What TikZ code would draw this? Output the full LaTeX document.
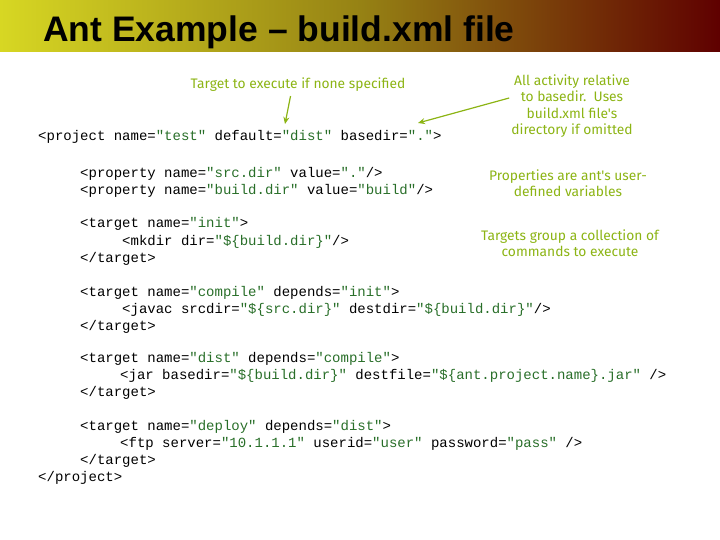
\documentclass[tikz,border=0pt]{standalone}
\usepackage{fontspec}
\usetikzlibrary{arrows.meta}
\setmainfont{Liberation Sans}
\newfontfamily\codefont{Liberation Mono}
\newfontfamily\notefont{Fira Sans}
\definecolor{valgreen}{RGB}{40,110,40}
\definecolor{notegreen}{RGB}{140,180,20}
\definecolor{barY}{RGB}{215,215,35}
\definecolor{barM}{RGB}{150,130,20}
\definecolor{barR}{RGB}{95,0,0}
\newcommand{\qv}[1]{\textcolor{valgreen}{"#1"}}
\begin{document}
\begin{tikzpicture}[x=1pt,y=-1pt,
  code/.style={anchor=base west,inner sep=0pt,font=\codefont\fontsize{14}{16}\selectfont},
  note/.style={align=center,inner sep=0pt,text=notegreen,font=\notefont\fontsize{13.8}{16.5}\selectfont},
  noteline/.style={notegreen,line width=1.2pt,-{Stealth[length=7pt,width=6pt]}}]
\useasboundingbox (0,0) rectangle (720,540);
\shade[left color=barY,right color=barR,middle color=barM] (0,0) rectangle (720,52);
\node[anchor=base west,inner sep=0pt,font=\bfseries\fontsize{35.5}{38}\selectfont] (title) at (43,42) {Ant Example – build.xml file};

\node[code] (p1) at (38,141) {<project name=\qv{test} default=\qv{dist} basedir=\qv{.}>};
\node[code] (p2) at (80,178) {<property name=\qv{src.dir} value=\qv{.}/>};
\node[code] (p3) at (80,195) {<property name=\qv{build.dir} value=\qv{build}/>};
\node[code] (t1) at (80,228) {<target name=\qv{init}>};
\node[code] (t2) at (122,245) {<mkdir dir=\qv{\$\{build.dir\}}/>};
\node[code] (t3) at (80,262) {</target>};
\node[code] (c1) at (80,296) {<target name=\qv{compile} depends=\qv{init}>};
\node[code] (c2) at (122,313) {<javac srcdir=\qv{\$\{src.dir\}} destdir=\qv{\$\{build.dir\}}/>};
\node[code] (c3) at (80,330) {</target>};
\node[code] (d1) at (80,362) {<target name=\qv{dist} depends=\qv{compile}>};
\node[code] (d2) at (120,379) {<jar basedir=\qv{\$\{build.dir\}} destfile=\qv{\$\{ant.project.name\}.jar} />};
\node[code] (d3) at (80,396) {</target>};
\node[code] (e1) at (80,430) {<target name=\qv{deploy} depends=\qv{dist}>};
\node[code] (e2) at (120,447) {<ftp server=\qv{10.1.1.1} userid=\qv{user} password=\qv{pass} />};
\node[code] (e3) at (80,464) {</target>};
\node[code] (pe) at (38,481) {</project>};

\node[note] (n1) at (298,85) {Target to execute if none specified};
\node[note] (n2) at (572,106) {All activity relative\\to basedir.\ \ Uses\\build.xml file's\\directory if omitted};
\node[note] (n3) at (568,183) {Properties are ant's user-\\defined variables};
\node[note] (n4) at (570,243) {Targets group a collection of\\commands to execute};

\coordinate (a1) at (285,124);
\coordinate (a2) at (418,123);
\draw[noteline] (n1.south west) ++(100,4) -- (a1);
\draw[noteline] (n2.west) ++(-2,-8) -- (a2);
\end{tikzpicture}
\end{document}
